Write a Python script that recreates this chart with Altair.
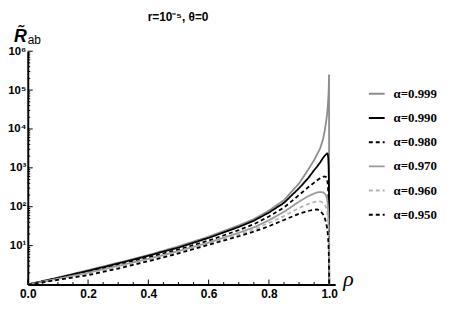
import altair as alt
import pandas as pd

rho = [0, 0.1, 0.2, 0.3, 0.4, 0.5, 0.6, 0.7, 0.75, 0.8, 0.85, 0.9, 0.93, 0.95, 0.96,
       0.97, 0.98, 0.985, 0.99, 0.993, 0.995, 0.997, 0.998, 0.999, 0.9995, 1.0]

series_labels = ["α=0.999", "α=0.990", "α=0.980", "α=0.970", "α=0.960", "α=0.950"]

r_0999 = [1, 1.51, 2.34, 3.63, 5.75, 9.55, 17.0, 33.1, 47.9, 79.4, 148, 398, 891, 1585, 2239,
          3162, 5623, 8913, 15850, 23990, 35480, 60260, 89130, 158500, 251200, 1]
r_0990 = [1, 1.48, 2.24, 3.47, 5.5, 8.9, 15.8, 30.2, 43.7, 70.8, 126, 300, 540, 870, 1080,
          1380, 1820, 2042, 2239, 2344, 2291, 1778, 1122, 398, 100, 1]
r_0980 = [1, 1.45, 2.14, 3.24, 5.01, 7.94, 13.5, 25.1, 35.5, 56.2, 95.5, 200, 316, 417, 479,
          537, 589, 603, 575, 501, 398, 224, 126, 39.8, 12.6, 1]
r_0970 = [1, 1.41, 2.0, 3.02, 4.57, 7.24, 12.0, 21.4, 29.5, 44.7, 74.1, 135, 186, 219, 234,
          240, 234, 219, 191, 158, 120, 70.8, 39.8, 15.8, 6.3, 1]
r_0960 = [1, 1.35, 1.86, 2.82, 4.27, 6.76, 11.2, 19.1, 26.3, 38.0, 57.5, 93.3, 117, 132, 138,
          138, 126, 115, 95.5, 75.9, 57.5, 35.5, 22.4, 10, 4.0, 1]
r_0950 = [1, 1.32, 1.74, 2.57, 3.98, 6.31, 10.5, 17.4, 22.9, 31.6, 45.7, 66.1, 77.6, 83.2, 85.1,
          79.4, 63.1, 52.5, 38.0, 28.2, 21.4, 13.2, 8.9, 5.0, 2.5, 1]

series_values = [r_0999, r_0990, r_0980, r_0970, r_0960, r_0950]

x_ticks_major = [0.0, 0.2, 0.4, 0.6, 0.8, 1.0]
x_ticks_minor = [0.05, 0.1, 0.15, 0.25, 0.3, 0.35, 0.45, 0.5, 0.55, 0.65, 0.7, 0.75,
                 0.85, 0.9, 0.95]
y_ticks_major = [1, 10, 100, 1000, 10000, 100000, 1000000]
y_ticks_minor = [m * 10 ** k for k in range(6) for m in range(2, 10)]
y_label_values = [10, 100, 1000, 10000, 100000, 1000000]

colors = ["#8c8c8c", "#000000", "#000000", "#9a9a9a", "#b4b4b4", "#000000"]
dashes = [[1, 0], [1, 0], [4, 3], [1, 0], [4, 3], [4, 3]]

rows = []
for lab, vals in zip(series_labels, series_values):
    for i, (p, v) in enumerate(zip(rho, vals)):
        rows.append({"rho": p, "R": v, "series": lab, "order": i})
df = pd.DataFrame(rows)

W, H = 311, 236
xscale = alt.Scale(domain=[0, 1.02], nice=False, zero=False)
yscale = alt.Scale(type="log", domain=[1, 1e6], nice=False)

x_axis = alt.Axis(
    values=x_ticks_major, format=".1f", ticks=False, grid=False, title=None,
    domainWidth=2, domainColor="black", labelFont="Liberation Sans",
    labelFontWeight="bold", labelFontSize=12, labelColor="black", labelPadding=4,
    labelFlush=False)
y_axis = alt.Axis(
    values=y_label_values, ticks=False, grid=False, title=None,
    domainWidth=2, domainColor="black", labelFont="Liberation Sans",
    labelFontWeight="bold", labelFontSize=11.5, labelColor="black", labelPadding=2,
    labelExpr="'10' + ['⁰','¹','²','³','⁴','⁵','⁶'][round(log(datum.value)/LN10)]")

legend = alt.Legend(
    title=None, orient="none", legendX=344, legendY=34,
    labelFont="Liberation Serif", labelFontWeight="bold", labelFontSize=13,
    labelColor="black", symbolType="stroke", symbolSize=256, symbolStrokeWidth=2,
    rowPadding=8.5, labelOffset=8, labelLimit=200,
)

lines = alt.Chart(df).mark_line(strokeWidth=1.8, clip=True).encode(
    x=alt.X("rho:Q", scale=xscale, axis=x_axis),
    y=alt.Y("R:Q", scale=yscale, axis=y_axis),
    color=alt.Color("series:N", scale=alt.Scale(domain=series_labels, range=colors),
                    legend=legend),
    strokeDash=alt.StrokeDash("series:N", scale=alt.Scale(domain=series_labels, range=dashes),
                              legend=legend),
    order="order:Q",
    detail="series:N",
)

xmaj = alt.Chart(pd.DataFrame({"rho": x_ticks_major})).mark_rule(color="black", strokeWidth=1).encode(
    x=alt.X("rho:Q", scale=xscale, axis=x_axis), y=alt.value(H), y2=alt.value(H - 5))
xmin = alt.Chart(pd.DataFrame({"rho": x_ticks_minor})).mark_rule(color="black", strokeWidth=1).encode(
    x=alt.X("rho:Q", scale=xscale, axis=x_axis), y=alt.value(H), y2=alt.value(H - 2.5))
ymaj = alt.Chart(pd.DataFrame({"R": y_ticks_major})).mark_rule(color="black", strokeWidth=1).encode(
    y=alt.Y("R:Q", scale=yscale, axis=y_axis), x=alt.value(0), x2=alt.value(5))
ymin = alt.Chart(pd.DataFrame({"R": y_ticks_minor})).mark_rule(color="black", strokeWidth=1).encode(
    y=alt.Y("R:Q", scale=yscale, axis=y_axis), x=alt.value(0), x2=alt.value(2.5))

title_txt = alt.Chart(pd.DataFrame({"t": ["r=10⁻⁵, θ=0"]})).mark_text(
    font="Liberation Sans", fontWeight="bold", fontSize=12, align="center", baseline="alphabetic",
    color="black").encode(x=alt.value(152), y=alt.value(-31), text="t:N")
ylab_R = alt.Chart(pd.DataFrame({"t": ["R̃"]})).mark_text(
    font="Liberation Sans", fontWeight="bold", fontStyle="italic", fontSize=18, align="left",
    baseline="alphabetic", color="black").encode(x=alt.value(-14), y=alt.value(-9), text="t:N")
ylab_ab = alt.Chart(pd.DataFrame({"t": ["ab"]})).mark_text(
    font="Liberation Sans", fontSize=12, align="left", baseline="alphabetic",
    color="black").encode(x=alt.value(0), y=alt.value(-7), text="t:N")
xlab = alt.Chart(pd.DataFrame({"t": ["ρ"]})).mark_text(
    font="Liberation Serif", fontStyle="italic", fontSize=22, align="left",
    baseline="alphabetic", color="black").encode(x=alt.value(319), y=alt.value(238), text="t:N")

chart = alt.layer(lines, xmin, xmaj, ymin, ymaj, title_txt, ylab_R, ylab_ab, xlab).properties(
    width=W, height=H,
    autosize=alt.AutoSizeParams(type="none"),
    padding={"left": 20, "top": 42, "right": 108, "bottom": 16},
).configure_view(stroke=None)

chart.save("out.html", embed_options={"renderer": "svg", "actions": False})
